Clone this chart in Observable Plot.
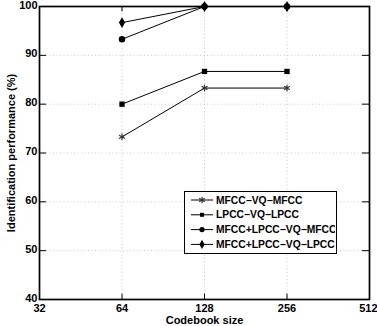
<!DOCTYPE html>
<html>
<head>
<meta charset="utf-8">
<script src="https://cdn.jsdelivr.net/npm/d3@7"></script>
<script src="https://cdn.jsdelivr.net/npm/@observablehq/plot@0.6"></script>
<style>
  body { margin: 0; background: #fff; }
  #wrap { position: relative; width: 377px; height: 326px; font-family: "Liberation Sans", Arial, sans-serif; }
  #legend { position: absolute; left: 184px; top: 191px; width: 153px; height: 63px; background: #fff; border: 1.3px solid #000; box-sizing: border-box; }
  #legend svg { display: block; }
</style>
</head>
<body>
<div id="wrap"><div id="legend"></div></div>
<script>
// Codebook sizes and identification rates (%) per system
const codebookSizes = [64, 128, 256];
const seriesNames = ["MFCC\u2212VQ\u2212MFCC", "LPCC\u2212VQ\u2212LPCC", "MFCC+LPCC\u2212VQ\u2212MFCC", "MFCC+LPCC\u2212VQ\u2212LPCC"];
const mfccVqMfcc = [73.3, 83.3, 83.3];
const lpccVqLpcc = [80.0, 86.7, 86.7];
const comboVqMfcc = [93.3, 100, 100];
const comboVqLpcc = [96.7, 100, 100];
const xTicks = [32, 64, 128, 256, 512];
const yTicks = [40, 50, 60, 70, 80, 90, 100];

const seriesValues = [mfccVqMfcc, lpccVqLpcc, comboVqMfcc, comboVqLpcc];
const symbols = ["asterisk", "square", "circle", "diamond"];
const data = seriesNames.flatMap((name, i) =>
  codebookSizes.map((size, j) => ({series: name, size, value: seriesValues[i][j], symbol: symbols[i]}))
);

const tickLenX = 2 ** 0.085;   // inward tick length on the log axis
const tickLenY = 1.1;          // inward tick length in percent
const lastX = xTicks[xTicks.length - 1];

const chart = Plot.plot({
  width: 377,
  height: 326,
  marginLeft: 39,
  marginRight: 8,
  marginTop: 6,
  marginBottom: 27,
  style: {fontFamily: "'Liberation Sans', Arial, sans-serif", fontSize: "11px", fontWeight: "bold", background: "#fff"},
  x: {type: "log", base: 2, domain: [32, 512]},
  y: {domain: [40, 100]},
  marks: [
    Plot.gridX(xTicks, {stroke: "#bbb", strokeOpacity: 1, strokeWidth: 0.8, strokeDasharray: "1,2.5"}),
    Plot.gridY(yTicks, {stroke: "#bbb", strokeOpacity: 1, strokeWidth: 0.8, strokeDasharray: "1,2.5"}),
    // inward ticks on all four sides
    Plot.ruleX(xTicks, {x: d => d, y1: 40, y2: 40 + tickLenY, stroke: "#000"}),
    Plot.ruleX(xTicks, {x: d => d, y1: 100, y2: 100 - tickLenY, stroke: "#000"}),
    Plot.ruleY(yTicks, {y: d => d, x1: 32, x2: 32 * tickLenX, stroke: "#000"}),
    Plot.ruleY(yTicks, {y: d => d, x1: 512, x2: 512 / tickLenX, stroke: "#000"}),
    Plot.axisX(xTicks.slice(0, -1), {tickSize: 0, tickPadding: 5, tickFormat: d => String(d), fill: "#000", fontSize: 11,
      label: "Codebook size", labelAnchor: "center", labelOffset: 24, labelArrow: "none"}),
    // rightmost tick label kept inside the canvas
    Plot.axisX([lastX], {tickSize: 0, tickPadding: 5, tickFormat: d => String(d), fill: "#000", fontSize: 11,
      textAnchor: "end", dx: 8, label: null}),
    Plot.axisY(yTicks, {tickSize: 0, tickPadding: 2, dy: -1.5, fill: "#000", fontSize: 11,
      label: "Identification performance (%)", labelAnchor: "center", labelOffset: 32, labelArrow: "none"}),
    Plot.line(data, {x: "size", y: "value", z: "series", stroke: "#000", strokeWidth: 1}),
    Plot.dot(data.filter(d => d.symbol === "asterisk"), {x: "size", y: "value", symbol: "asterisk", r: 3.2, stroke: "#333", strokeWidth: 1.2}),
    Plot.dot(data.filter(d => d.symbol !== "asterisk"), {x: "size", y: "value", symbol: "symbol", r: d => d.symbol === "square" ? 2.2 : 2.6, fill: "#000", stroke: "none"}),
    Plot.frame({stroke: "#000", strokeWidth: 1.7})
  ]
});
document.getElementById("wrap").prepend(chart);
chart.style.position = "absolute";
chart.style.left = "0";
chart.style.top = "0";

// Legend: line segment with marker, then series name
const lg = d3.select("#legend").append("svg").attr("width", 150).attr("height", 61);
const symbolMap = {asterisk: d3.symbolAsterisk, square: d3.symbolSquare, circle: d3.symbolCircle, diamond: d3.symbolDiamond};
const sizes = {asterisk: 30, square: 16, circle: 22, diamond: 24};
seriesNames.forEach((name, i) => {
  const y = 8 + i * 14.8;
  const g = lg.append("g").attr("transform", `translate(0,${y})`);
  g.append("line").attr("x1", 6).attr("x2", 28).attr("y1", 0).attr("y2", 0).attr("stroke", "#000");
  const s = symbols[i];
  const p = g.append("path").attr("transform", "translate(17,0)")
    .attr("d", d3.symbol(symbolMap[s], sizes[s])());
  if (s === "asterisk") p.attr("fill", "none").attr("stroke", "#333").attr("stroke-width", 1.2);
  else p.attr("fill", "#000");
  g.append("text").attr("x", 31).attr("y", 0).attr("dy", "0.35em")
    .attr("font-size", "10.3px").attr("font-weight", "bold").attr("fill", "#000").text(name);
});
</script>
</body>
</html>
